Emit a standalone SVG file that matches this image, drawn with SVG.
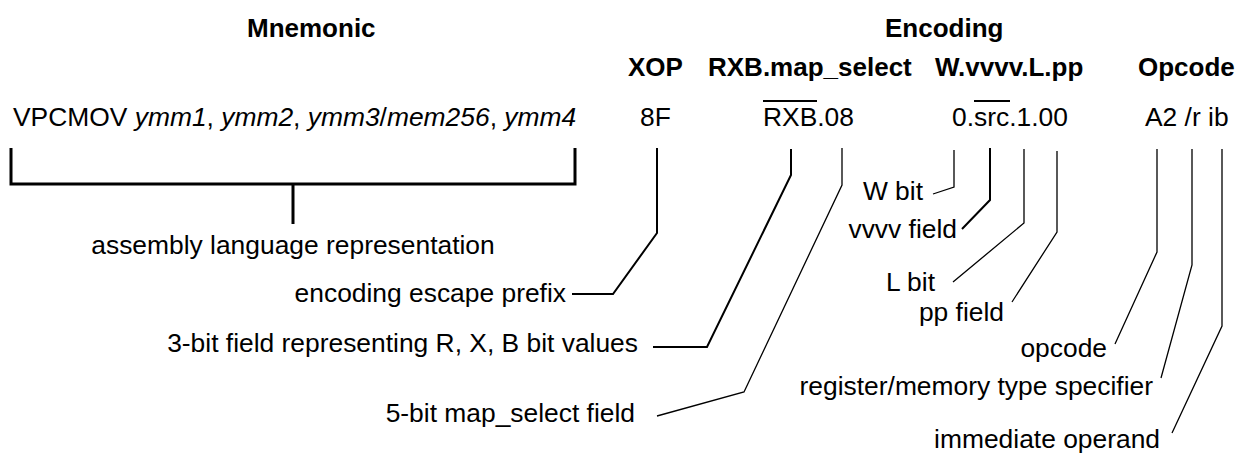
<svg xmlns="http://www.w3.org/2000/svg" width="1238" height="453" viewBox="0 0 1238 453">
<style>
text{font-family:"Liberation Sans",Arial,sans-serif;font-size:26.4px;fill:#000}
.h{font-weight:bold;font-size:26px}
.i{font-style:italic}
.e{text-anchor:end}
.c{text-anchor:middle}
.ln{fill:none;stroke:#000;stroke-width:1.3;stroke-linejoin:miter}
.th{stroke-width:2}
.br{stroke-width:3}
</style>
<rect width="1238" height="453" fill="#fff"/>
<g id="headers">
<text class="h" x="247" y="37">Mnemonic</text>
<text class="h" x="885" y="37">Encoding</text>
<text class="h" x="628" y="76">XOP</text>
<text class="h" x="708" y="76">RXB.map_select</text>
<text class="h" x="935" y="76">W.vvvv.L.pp</text>
<text class="h" x="1138" y="76">Opcode</text>
</g>
<g id="mnemonic">
<text x="13" y="126">VPCMOV <tspan class="i">ymm1</tspan>, <tspan class="i">ymm2</tspan>, <tspan class="i">ymm3</tspan>/<tspan class="i">mem256</tspan>, <tspan class="i">ymm4</tspan></text>
</g>
<g id="xop"><text x="640" y="126">8F</text></g>
<g id="rxb"><text x="763" y="126">RXB.08</text><line class="ln th" x1="763" y1="101" x2="817" y2="101"/></g>
<g id="wvvvv"><text x="952" y="126">0.src.1.00</text><line class="ln th" x1="974" y1="101" x2="1010" y2="101"/></g>
<g id="opcode"><text x="1145" y="126">A2 /r ib</text></g>
<g id="labels">
<text class="c" x="293" y="254">assembly language representation</text>
<text class="e" x="566" y="302">encoding escape prefix</text>
<text class="e" x="638" y="352">3-bit field representing R, X, B bit values</text>
<text class="e" x="635" y="422">5-bit map_select field</text>
<text class="e" x="923" y="200">W bit</text>
<text class="e" x="957" y="238">vvvv field</text>
<text class="e" x="935" y="291">L bit</text>
<text class="e" x="1004" y="321">pp field</text>
<text class="e" x="1107" y="357">opcode</text>
<text class="e" x="1153" y="395">register/memory type specifier</text>
<text class="e" x="1160" y="448">immediate operand</text>
</g>
<g id="connectors">
<path class="ln br" d="M11,148 V184 H575 V148 M293,184 V224"/>
<path class="ln th" d="M657,148 V233 L613,294 H572"/>
<path class="ln th" d="M791,149 V175 L707,347 H653"/>
<path class="ln" d="M842,148 V185 L744,392 L657,416"/>
<path class="ln" d="M954,150 V187 L933,194"/>
<path class="ln th" d="M990,148 V200 L962,229"/>
<path class="ln" d="M1024,149 V223 L953,282"/>
<path class="ln" d="M1057,151 V232 L1012,302"/>
<path class="ln" d="M1157,149 V252 L1115,344"/>
<path class="ln" d="M1192,149 V265 L1161,378"/>
<path class="ln" d="M1222,149 V326 L1172,433"/>
</g>
</svg>
